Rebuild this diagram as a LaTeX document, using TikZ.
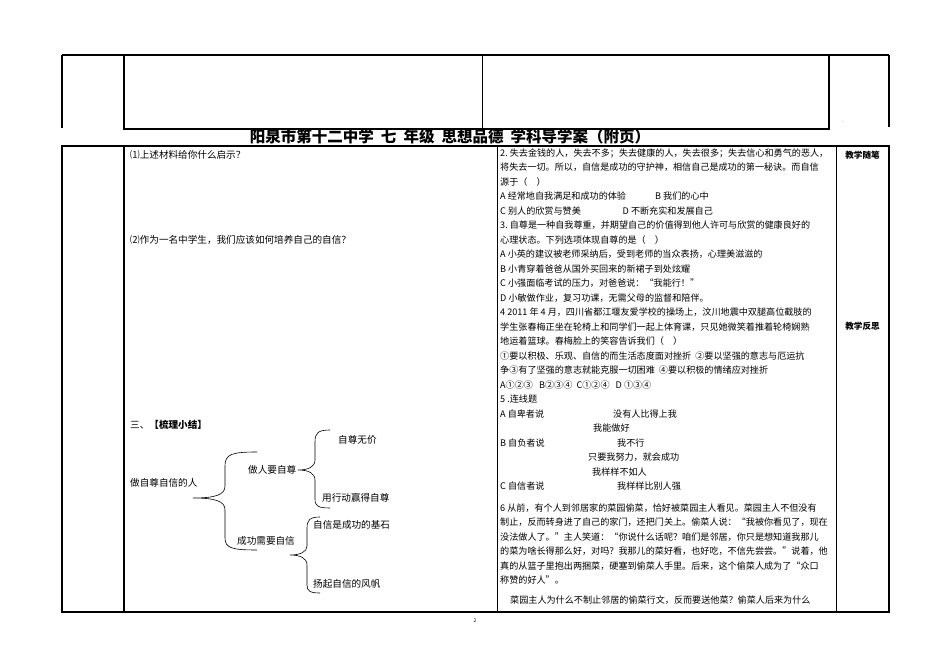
\documentclass[tikz,border=0pt]{standalone}
\usepackage{fontspec}
\setmainfont{Noto Sans CJK SC}
\begin{document}
\begin{tikzpicture}[x=1pt,y=-1pt,
  t/.style={anchor=west,inner sep=0pt,font=\fontsize{9.6}{11}\selectfont},
  r/.style={anchor=west,inner sep=0pt,font=\fontsize{9.1}{11}\selectfont},
  thick line/.style={line width=1.6pt},
  thin line/.style={line width=0.7pt},
  brace/.style={line width=0.6pt}]
\useasboundingbox (0,0) rectangle (950,671);
% top table
\draw[thick line] (62,55) -- (889,55);
\draw[thick line] (62,55) -- (62,128);
\draw[thick line] (124,55) -- (124,129) -- (829,129) -- (829,55);
\draw[thin line] (482,55) -- (482,129);
\draw[thick line] (889,55) -- (889,127);
\node[inner sep=0pt,font=\tiny] (dot) at (843,122) {.};
% title
\node[inner sep=0pt,font=\fontsize{15.5}{17}\bfseries\selectfont] (title) at (450,137) {阳泉市第十二中学\ \ 七\ \ 年级\ \ 思想品德\ \ 学科导学案（附页）};
\draw[line width=0.6pt] (238,145) -- (600,145);
% main table
\draw[thick line] (62,146) rectangle (889,612);
\draw[thick line] (124,146) -- (124,612);
\draw[thin line] (497,146) -- (497,612);
\draw[thin line] (836,146) -- (836,612);
\node[inner sep=0pt,font=\fontsize{8.6}{10}\bfseries\selectfont] (suibi) at (862.5,155) {教学随笔};
\node[inner sep=0pt,font=\fontsize{8.6}{10}\bfseries\selectfont] (fansi) at (862.5,326) {教学反思};
\node[inner sep=0pt,font=\tiny] (pg) at (475,621) {2};
% left column
\node[t] (q1) at (130,155) {⑴上述材料给你什么启示？};
\node[t] (q2) at (130,240) {⑵作为一名中学生，我们应该如何培养自己的自信？};
\node[t] (s3) at (130,425) {三、\textbf{【梳理小结】}};
\node[t] (n0) at (130,483) {做自尊自信的人};
\node[t] (n1) at (248,470) {做人要自尊};
\node[t] (n11) at (338,440) {自尊无价};
\node[t] (n12) at (322,498) {用行动赢得自尊};
\node[t] (n2) at (237,541) {成功需要自信};
\node[t] (n21) at (313,525) {自信是成功的基石};
\node[t] (n22) at (313,584) {扬起自信的风帆};
% braces
\draw[brace] (257,452) .. controls (232,452) and (225,454) .. (225,466) -- (225,486) .. controls (225,495) and (215,498) .. (193,498)
  .. controls (215,498) and (225,501) .. (225,510) -- (225,538) .. controls (225,548) and (232,550) .. (257,550);
\draw[brace] (330,430) .. controls (318,430) and (315,433) .. (315,442) -- (315,460) .. controls (315,467) and (308,470) .. (298,470)
  .. controls (308,470) and (315,473) .. (315,480) -- (315,499) .. controls (315,506) and (318,508) .. (330,508);
\draw[brace] (320,517) .. controls (310,517) and (307,520) .. (307,528) -- (307,546) .. controls (307,552) and (300,555) .. (290,555)
  .. controls (300,555) and (307,558) .. (307,565) -- (307,585) .. controls (307,591) and (310,593) .. (320,593);
% right column
\node[r] (r1) at (500,153) {2.\ 失去金钱的人，失去不多；失去健康的人，失去很多；失去信心和勇气的恶人，};
\node[r] (r2) at (500,167.5) {将失去一切。所以，自信是成功的守护神，相信自己是成功的第一秘诀。而自信};
\node[r] (r3) at (500,182) {源于（\quad ）};
\node[r] (r4) at (500,196.5) {A 经常地自我满足和成功的体验\hspace{3.2em}B 我们的心中};
\node[r] (r5) at (500,211) {C 别人的欣赏与赞美\hspace{4.6em}D 不断充实和发展自己};
\node[r] (r6) at (500,225.5) {3.\ 自尊是一种自我尊重，并期望自己的价值得到他人许可与欣赏的健康良好的};
\node[r] (r7) at (500,240) {心理状态。下列选项体现自尊的是（\quad ）};
\node[r] (r8) at (500,254.5) {A 小英的建议被老师采纳后，受到老师的当众表扬，心理美滋滋的};
\node[r] (r9) at (500,269) {B 小青穿着爸爸从国外买回来的新裙子到处炫耀};
\node[r] (r10) at (500,283.5) {C 小强面临考试的压力，对爸爸说：“我能行！”};
\node[r] (r11) at (500,298) {D 小敏做作业，复习功课，无需父母的监督和陪伴。};
\node[r] (r12) at (500,312.5) {4\ 2011 年 4 月，四川省都江堰友爱学校的操场上，汶川地震中双腿高位截肢的};
\node[r] (r13) at (500,327) {学生张春梅正坐在轮椅上和同学们一起上体育课，只见她微笑着推着轮椅娴熟};
\node[r] (r14) at (500,341.5) {地运着篮球。春梅脸上的笑容告诉我们（\quad ）};
\node[r] (r15) at (500,356) {①要以积极、乐观、自信的而生活态度面对挫折\ \ ②要以坚强的意志与厄运抗};
\node[r] (r16) at (500,370.5) {争③有了坚强的意志就能克服一切困难\ \ ④要以积极的情绪应对挫折};
\node[r] (r17) at (500,385) {A①②③\ \ \ B②③④\ \ C①②④\ \ \ D ①③④};
\node[r] (r18) at (500,399.5) {5\ .连线题};
\node[r] (r19) at (500,414) {A 自卑者说};
\node[r] (r19b) at (613,414) {没有人比得上我};
\node[r] (r20) at (593,428.5) {我能做好};
\node[r] (r21) at (500,443) {B 自负者说};
\node[r] (r21b) at (617,443) {我不行};
\node[r] (r22) at (588,457.5) {只要我努力，就会成功};
\node[r] (r23) at (592,472) {我样样不如人};
\node[r] (r24) at (500,486.5) {C 自信者说};
\node[r] (r24b) at (617,486.5) {我样样比别人强};
\node[r] (r25) at (500,508) {6\ 从前，有个人到邻居家的菜园偷菜，恰好被菜园主人看见。菜园主人不但没有};
\node[r] (r26) at (500,522.5) {制止，反而转身进了自己的家门，还把门关上。偷菜人说：“我被你看见了，现在};
\node[r] (r27) at (500,537) {没法做人了。”主人笑道：“你说什么话呢？咱们是邻居，你只是想知道我那儿};
\node[r] (r28) at (500,551.5) {的菜为啥长得那么好，对吗？我那儿的菜好看，也好吃，不信先尝尝。”说着，他};
\node[r] (r29) at (500,566) {真的从篮子里抱出两捆菜，硬塞到偷菜人手里。后来，这个偷菜人成为了“众口};
\node[r] (r30) at (500,580.5) {称赞的好人”。};
\node[r] (r31) at (510,600) {菜园主人为什么不制止邻居的偷菜行文，反而要送他菜？偷菜人后来为什么};
\end{tikzpicture}
\end{document}
